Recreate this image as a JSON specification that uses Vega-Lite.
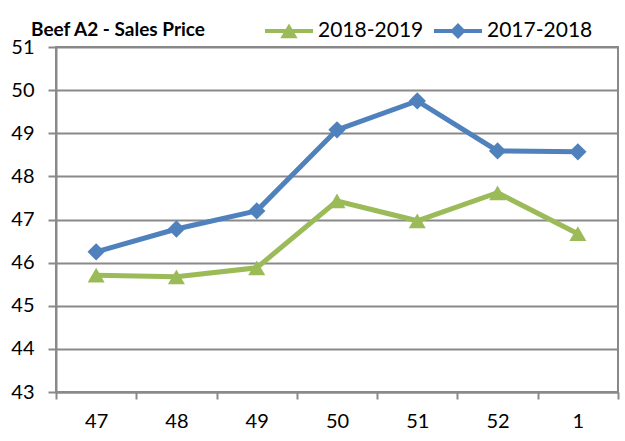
{
  "$schema": "https://vega.github.io/schema/vega-lite/v6.json",
  "width": 562,
  "height": 345,
  "autosize": {"type": "none"},
  "padding": {"left": 56, "top": 47, "right": 7, "bottom": 49},
  "background": "white",
  "config": {
    "font": "Lato",
    "view": {"stroke": "#898989", "strokeWidth": 2}
  },
  "title": {
    "text": "Beef A2 - Sales Price",
    "anchor": "start",
    "frame": "group",
    "dx": -25,
    "dy": 45,
    "offset": 12,
    "fontSize": 19,
    "fontWeight": "bold",
    "font": "Lato",
    "color": "black"
  },
  "data": {
    "values": [
      {"week": "47", "series": "2017-2018", "price": 46.25},
      {"week": "48", "series": "2017-2018", "price": 46.78},
      {"week": "49", "series": "2017-2018", "price": 47.2},
      {"week": "50", "series": "2017-2018", "price": 49.08},
      {"week": "51", "series": "2017-2018", "price": 49.75},
      {"week": "52", "series": "2017-2018", "price": 48.59},
      {"week": "1", "series": "2017-2018", "price": 48.57},
      {"week": "47", "series": "2018-2019", "price": 45.71},
      {"week": "48", "series": "2018-2019", "price": 45.67},
      {"week": "49", "series": "2018-2019", "price": 45.88},
      {"week": "50", "series": "2018-2019", "price": 47.43},
      {"week": "51", "series": "2018-2019", "price": 46.97},
      {"week": "52", "series": "2018-2019", "price": 47.62},
      {"week": "1", "series": "2018-2019", "price": 46.67}
    ]
  },
  "encoding": {
    "x": {
      "field": "week",
      "type": "ordinal",
      "sort": ["47", "48", "49", "50", "51", "52", "1"],
      "bandPosition": 0.5,
      "scale": {"type": "band", "paddingInner": 0, "paddingOuter": 0},
      "axis": {
        "title": null,
        "labelAngle": 0,
        "labelFontSize": 20,
        "labelColor": "black",
        "labelPadding": 12,
        "tickBand": "extent",
        "tickSize": 7,
        "tickColor": "#898989",
        "tickWidth": 2,
        "domainColor": "#898989",
        "domainWidth": 2,
        "grid": false
      }
    },
    "y": {
      "field": "price",
      "type": "quantitative",
      "scale": {"domain": [43, 51], "nice": false, "zero": false},
      "axis": {
        "title": null,
        "values": [43, 44, 45, 46, 47, 48, 49, 50, 51],
        "labelFontSize": 20,
        "labelColor": "black",
        "labelPadding": 14,
        "tickSize": 8,
        "tickColor": "#898989",
        "tickWidth": 2,
        "domainColor": "#898989",
        "domainWidth": 2,
        "grid": true,
        "gridColor": "#898989",
        "gridWidth": 2
      }
    },
    "color": {
      "field": "series",
      "type": "nominal",
      "scale": {"domain": ["2018-2019", "2017-2018"], "range": ["#9BBB59", "#4F81BD"]},
      "legend": {
        "title": null,
        "orient": "none",
        "direction": "horizontal",
        "legendX": 209,
        "legendY": -40,
        "symbolSize": 2304,
        "symbolStrokeWidth": 0,
        "labelFontSize": 21,
        "labelColor": "black",
        "labelOffset": 5,
        "columnPadding": 10,
        "encode": {
          "symbols": {
            "update": {
              "shape": {"signal": "datum.value === '2018-2019' ? 'M-1,-0.085H1V0.085H-1Z M0,-0.31L0.36,0.3H-0.36Z' : 'M-1,-0.085H1V0.085H-1Z M0,-0.33L0.33,0L0,0.33L-0.33,0Z'"},
              "fill": {"signal": "datum.value === '2018-2019' ? '#9BBB59' : '#4F81BD'"},
              "opacity": {"value": 1},
              "strokeWidth": {"value": 0}
            }
          }
        }
      }
    }
  },
  "layer": [
    {"mark": {"type": "line", "strokeWidth": 5}},
    {
      "transform": [{"filter": "datum.series === '2018-2019'"}],
      "mark": {"type": "point", "filled": true, "size": 290, "opacity": 1, "shape": "triangle-up"}
    },
    {
      "transform": [{"filter": "datum.series === '2017-2018'"}],
      "mark": {"type": "point", "filled": true, "size": 300, "opacity": 1, "shape": "diamond"}
    }
  ]
}
